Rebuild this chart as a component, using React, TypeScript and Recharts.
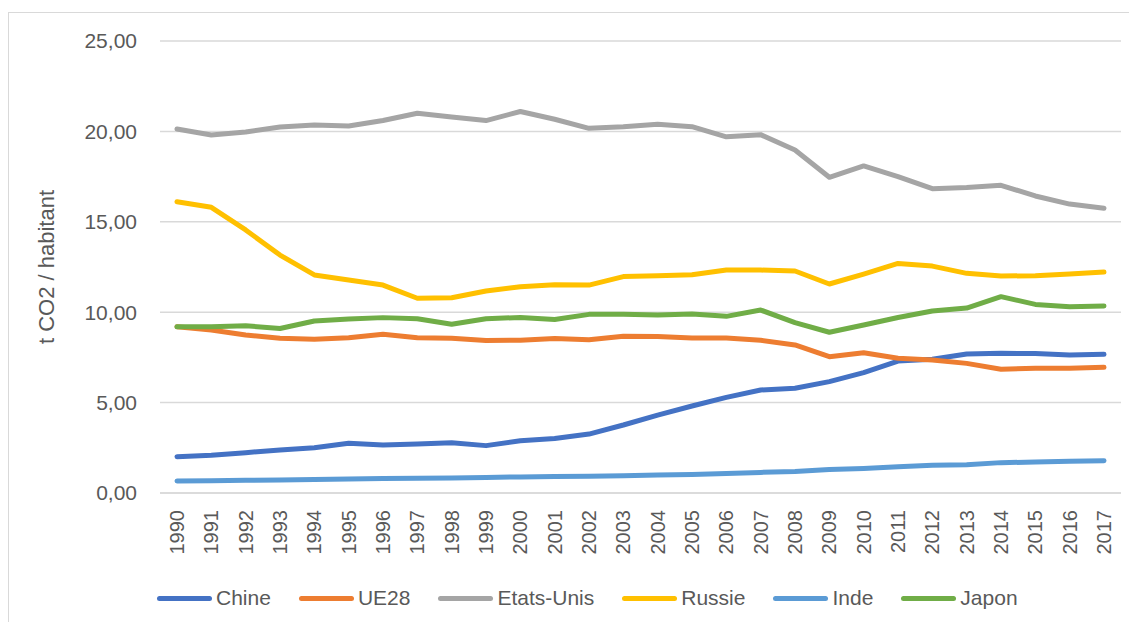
import React from "react";
import {
  LineChart,
  Line,
  XAxis,
  YAxis,
  CartesianGrid,
  Legend,
} from "recharts";

const years = [
  1990, 1991, 1992, 1993, 1994, 1995, 1996, 1997, 1998, 1999, 2000, 2001, 2002,
  2003, 2004, 2005, 2006, 2007, 2008, 2009, 2010, 2011, 2012, 2013, 2014, 2015,
  2016, 2017,
];

const chine = [
  2.01, 2.09, 2.23, 2.38, 2.5, 2.75, 2.65, 2.71, 2.78, 2.62, 2.89, 3.02, 3.26,
  3.76, 4.31, 4.81, 5.29, 5.7, 5.79, 6.16, 6.66, 7.3, 7.4, 7.69, 7.73, 7.71,
  7.63, 7.67,
];
const ue28 = [
  9.2, 9.02, 8.74, 8.56, 8.5, 8.59, 8.78, 8.59, 8.56, 8.43, 8.45, 8.54, 8.48,
  8.67, 8.65, 8.57, 8.57, 8.45, 8.19, 7.54, 7.76, 7.45, 7.36, 7.17, 6.84, 6.9,
  6.9, 6.95,
];
const etatsUnis = [
  20.13, 19.8, 19.97, 20.24, 20.35, 20.3, 20.6, 21.0, 20.8, 20.6, 21.1, 20.67,
  20.17, 20.26, 20.4, 20.26, 19.7, 19.82, 18.97, 17.46, 18.09, 17.5, 16.83,
  16.9, 17.02, 16.43, 15.98, 15.75,
];
const russie = [
  16.11, 15.8, 14.55, 13.16, 12.06, 11.78, 11.5, 10.77, 10.8, 11.17, 11.41,
  11.52, 11.5, 11.97, 12.02, 12.07, 12.33, 12.33, 12.28, 11.56, 12.11, 12.7,
  12.55, 12.15, 12.0, 12.02, 12.11, 12.22,
];
const inde = [
  0.66, 0.68, 0.7, 0.72, 0.74, 0.78, 0.8, 0.82, 0.83, 0.86, 0.89, 0.91, 0.93,
  0.95, 0.99, 1.03, 1.08, 1.14, 1.19, 1.3, 1.36, 1.45, 1.53, 1.56, 1.68, 1.71,
  1.75, 1.79,
];
const japon = [
  9.2, 9.2, 9.25, 9.1, 9.51, 9.62, 9.7, 9.64, 9.33, 9.64, 9.71, 9.6, 9.88,
  9.88, 9.85, 9.9, 9.77, 10.12, 9.42, 8.89, 9.29, 9.71, 10.07, 10.23, 10.86,
  10.43, 10.3, 10.34,
];

const yTicks = [0, 5, 10, 15, 20, 25];

const series = [
  { key: "Chine", color: "#4472C4", values: chine },
  { key: "UE28", color: "#ED7D31", values: ue28 },
  { key: "Etats-Unis", color: "#A5A5A5", values: etatsUnis },
  { key: "Russie", color: "#FFC000", values: russie },
  { key: "Inde", color: "#5B9BD5", values: inde },
  { key: "Japon", color: "#70AD47", values: japon },
];

const data = years.map((year, i) => {
  const row: Record<string, number> = { year };
  series.forEach((s) => {
    row[s.key] = s.values[i];
  });
  return row;
});

const FONT = "'Liberation Sans', Arial, sans-serif";
const TEXT = "#595959";

const YearTick = (props: any) => {
  const { x, y, payload } = props;
  return (
    <text
      transform={`translate(${x},${y}) rotate(-90)`}
      textAnchor="end"
      dominantBaseline="central"
      fill={TEXT}
      fontSize={20}
      fontFamily={FONT}
    >
      {payload.value}
    </text>
  );
};

const YTitle = () => (
  <text
    transform="translate(37,254) rotate(-90)"
    textAnchor="middle"
    dominantBaseline="central"
    fill={TEXT}
    fontSize={22}
    fontFamily={FONT}
  >
    t CO2 / habitant
  </text>
);

const LegendContent = () => (
  <div
    style={{
      display: "flex",
      alignItems: "center",
      height: 40,
      paddingLeft: 148,
      fontFamily: FONT,
      fontSize: 21,
      color: TEXT,
    }}
  >
    {series.map((s) => (
      <div
        key={s.key}
        style={{ display: "flex", alignItems: "center", marginRight: 28 }}
      >
        <span
          style={{
            display: "inline-block",
            width: 55,
            height: 5,
            borderRadius: 3,
            background: s.color,
            marginRight: 4,
          }}
        />
        {s.key}
      </div>
    ))}
  </div>
);

export default function App() {
  return (
    <div style={{ position: "relative", top: 4, width: 1129, height: 614 }}>
      <div
        style={{
          width: 1128,
          height: 613,
          borderTop: "1px solid #d9d9d9",
          borderLeft: "1px solid #d9d9d9",
          background: "#fff",
        }}
      >
        <LineChart
          width={1128}
          height={612}
          data={data}
          margin={{ top: 28, right: 16, left: 0, bottom: 7 }}
        >
          <CartesianGrid vertical={false} stroke="#d9d9d9" strokeWidth={1.5} />
          <XAxis
            dataKey="year"
            height={85}
            padding={{ left: 17, right: 17 }}
            axisLine={{ stroke: "#d9d9d9", strokeWidth: 1.5 }}
            tickLine={false}
            tickSize={0}
            tickMargin={17}
            interval={0}
            tick={<YearTick />}
          />
          <YAxis
            width={151}
            domain={[0, 25]}
            ticks={yTicks}
            axisLine={false}
            tickLine={false}
            tickSize={0}
            tickMargin={23}
            tickFormatter={(v: number) => v.toFixed(2).replace(".", ",")}
            tick={{ fill: TEXT, fontSize: 21, fontFamily: FONT }}
            label={<YTitle />}
          />
          {series.map((s) => (
            <Line
              key={s.key}
              type="linear"
              dataKey={s.key}
              stroke={s.color}
              strokeWidth={5}
              strokeLinecap="round"
              strokeLinejoin="round"
              dot={false}
              activeDot={false}
              isAnimationActive={false}
            />
          ))}
          <Legend
            verticalAlign="bottom"
            height={40}
            content={<LegendContent />}
          />
        </LineChart>
      </div>
    </div>
  );
}
